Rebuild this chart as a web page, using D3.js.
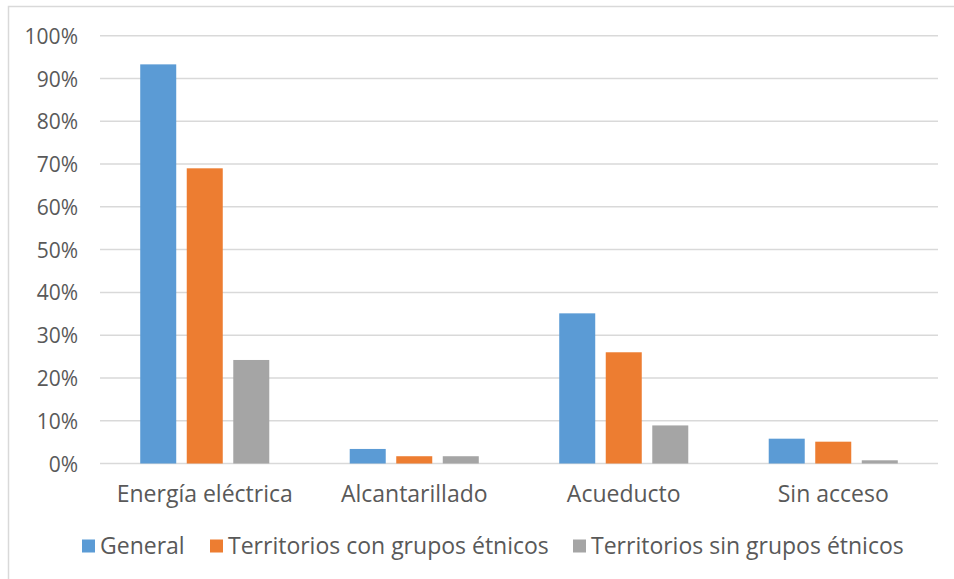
<!DOCTYPE html>
<html>
<head>
<meta charset="utf-8">
<script src="https://cdn.jsdelivr.net/npm/d3@7"></script>
<style>
  body { margin: 0; background: #fff; }
  svg { display: block; }
</style>
</head>
<body>
<div class="chart"></div>
<script>
var width = 954,
    height = 579;

// data (percent)
const categories = ["Energía eléctrica", "Alcantarillado", "Acueducto", "Sin acceso"];
const seriesNames = ["General", "Territorios con grupos étnicos", "Territorios sin grupos étnicos"];
const general = [93.3, 3.4, 35.1, 5.8];
const conGrupos = [69.0, 1.7, 26.0, 5.1];
const sinGrupos = [24.2, 1.7, 8.9, 0.75];
const yTicks = [0, 10, 20, 30, 40, 50, 60, 70, 80, 90, 100];

const colors = ["#5B9BD5", "#ED7D31", "#A5A5A5"];
const seriesValues = [general, conGrupos, sinGrupos];

const font = "'Open Sans', sans-serif";
const textColor = "#595959";

let svg = d3.select(".chart")
    .append("svg")
    .attr("width", width)
    .attr("height", height);

// outer frame (only top and left edges show in the crop)
svg.append("rect")
    .attr("x", 8.5)
    .attr("y", 6.5)
    .attr("width", 960)
    .attr("height", 600)
    .attr("fill", "none")
    .attr("stroke", "#D9D9D9")
    .attr("stroke-width", 1.5);

let plot = { left: 100, right: 938, top: 35.7, bottom: 463.5 };

let x = d3.scaleBand()
    .domain(categories)
    .range([plot.left, plot.right])
    .paddingInner(0.384)
    .paddingOuter(0.192);

let xInner = d3.scaleBand()
    .domain(d3.range(seriesNames.length))
    .range([0, x.bandwidth()])
    .paddingInner(0.226)
    .paddingOuter(0);

let y = d3.scaleLinear()
    .domain([0, 100])
    .range([plot.bottom, plot.top]);

// gridlines
svg.append("g")
    .selectAll("line")
    .data(yTicks)
    .join("line")
    .attr("x1", plot.left)
    .attr("x2", plot.right)
    .attr("y1", d => y(d))
    .attr("y2", d => y(d))
    .attr("stroke", "#D9D9D9")
    .attr("stroke-width", 1.5);

// y axis labels
let yAxis = svg.append("g")
    .attr("transform", `translate(${plot.left - 22}, 0)`)
    .call(d3.axisLeft(y).tickValues(yTicks).tickSize(0).tickFormat(d => d + "%"));
yAxis.select(".domain").remove();
yAxis.selectAll("text")
    .attr("x", 0)
    .attr("dy", "0.36em")
    .style("font-family", font)
    .style("font-size", "21px")
    .style("fill", textColor);

// bars
let rows = [];
categories.forEach(function(c, ci){
    seriesValues.forEach(function(vals, si){
        rows.push({ cat: c, s: si, value: vals[ci] });
    });
});

svg.append("g")
    .selectAll("rect")
    .data(rows)
    .join("rect")
    .attr("x", d => x(d.cat) + xInner(d.s))
    .attr("width", xInner.bandwidth())
    .attr("y", d => y(d.value))
    .attr("height", d => y(0) - y(d.value))
    .attr("fill", d => colors[d.s]);

// x axis labels
let xAxis = svg.append("g")
    .attr("transform", `translate(0, ${plot.bottom})`)
    .call(d3.axisBottom(x).tickSize(0));
xAxis.select(".domain").remove();
xAxis.selectAll("text")
    .attr("y", 38)
    .attr("dy", 0)
    .style("font-family", font)
    .style("font-size", "23px")
    .style("fill", textColor);

// legend
let legendX = [82, 210, 573];
let legend = svg.append("g")
    .selectAll("g")
    .data(seriesNames)
    .join("g")
    .attr("transform", (d, i) => `translate(${legendX[i]}, 546)`);

legend.append("rect")
    .attr("x", 0)
    .attr("y", -6.5)
    .attr("width", 13)
    .attr("height", 13)
    .attr("fill", (d, i) => colors[i]);

legend.append("text")
    .attr("x", 18)
    .attr("dy", "0.36em")
    .style("font-family", font)
    .style("font-size", "23px")
    .style("fill", textColor)
    .text(d => d);
</script>
</body>
</html>
